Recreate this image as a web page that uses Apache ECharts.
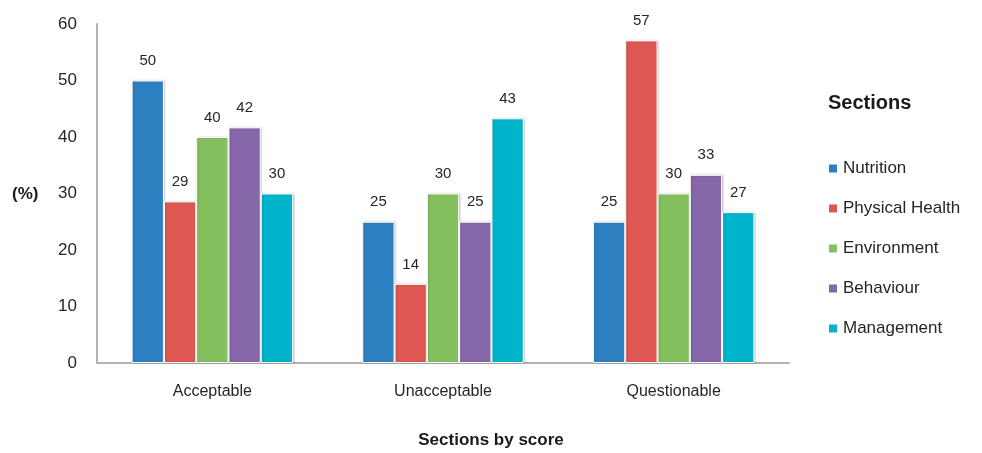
<!DOCTYPE html>
<html>
<head>
<meta charset="utf-8">
<script src="https://cdn.jsdelivr.net/npm/echarts@6/dist/echarts.min.js"></script>
<style>
html,body{margin:0;padding:0;background:#fff;}
#c{width:982px;height:453px;}
</style>
</head>
<body>
<div id="c"></div>
<script>
const categories = ['Acceptable', 'Unacceptable', 'Questionable'];
const seriesNames = ['Nutrition', 'Physical Health', 'Environment', 'Behaviour', 'Management'];
const nutrition = [50, 25, 25];
const physicalHealth = [28.6, 14, 57.1];
const environment = [40, 30, 30];
const behaviour = [41.7, 25, 33.3];
const management = [30, 43.3, 26.7];
const yTicks = [0, 10, 20, 30, 40, 50, 60];
const colors = ['#2E7FC0', '#DE5753', '#85C05F', '#8667AA', '#00B5CB'];
const values = [nutrition, physicalHealth, environment, behaviour, management];

const font = 'Liberation Sans, Arial, sans-serif';
const chart = echarts.init(document.getElementById('c'));
chart.setOption({
  animation: false,
  color: colors,
  grid: { left: 97, right: 193, top: 24, bottom: 90, containLabel: false },
  legend: {
    orient: 'vertical',
    left: 822,
    top: 155,
    icon: 'rect',
    itemWidth: 10,
    itemHeight: 10,
    itemGap: 23,
    textStyle: { fontFamily: font, fontSize: 17, color: '#262626', lineHeight: 17 },
    data: seriesNames
  },
  graphic: [
    { type: 'text', left: 828, top: 93, style: { text: 'Sections', font: 'bold 20px ' + font, fill: '#1a1a1a' } },
    { type: 'text', left: 12, top: 186, style: { text: '(%)', font: 'bold 17px ' + font, fill: '#1a1a1a' } },
    { type: 'text', left: 'center', top: 432, style: { text: 'Sections by score', font: 'bold 17px ' + font, fill: '#1a1a1a' } }
  ],
  xAxis: {
    type: 'category',
    data: categories,
    axisLine: { lineStyle: { color: '#b3b3b3', width: 2 } },
    axisTick: { show: false },
    axisLabel: { fontFamily: font, fontSize: 16, color: '#262626', margin: 21 }
  },
  yAxis: {
    type: 'value',
    min: yTicks[0],
    max: yTicks[yTicks.length - 1],
    interval: 10,
    axisLine: { show: true, lineStyle: { color: '#b3b3b3', width: 2 } },
    axisTick: { show: false },
    splitLine: { show: false },
    axisLabel: { fontFamily: font, fontSize: 17, color: '#262626', margin: 20 }
  },
  series: seriesNames.map((name, i) => ({
    name: name,
    type: 'bar',
    data: values[i],
    barGap: '0%',
    barCategoryGap: '30%',
    itemStyle: {
      color: colors[i],
      borderColor: '#fff',
      borderWidth: 1,
      shadowColor: 'rgba(0,0,0,0.2)',
      shadowBlur: 2,
      shadowOffsetX: 1
    },
    label: {
      show: true,
      position: 'top',
      distance: 12,
      fontFamily: font,
      fontSize: 15,
      color: '#262626',
      formatter: p => Math.round(p.value)
    }
  }))
});
</script>
</body>
</html>
